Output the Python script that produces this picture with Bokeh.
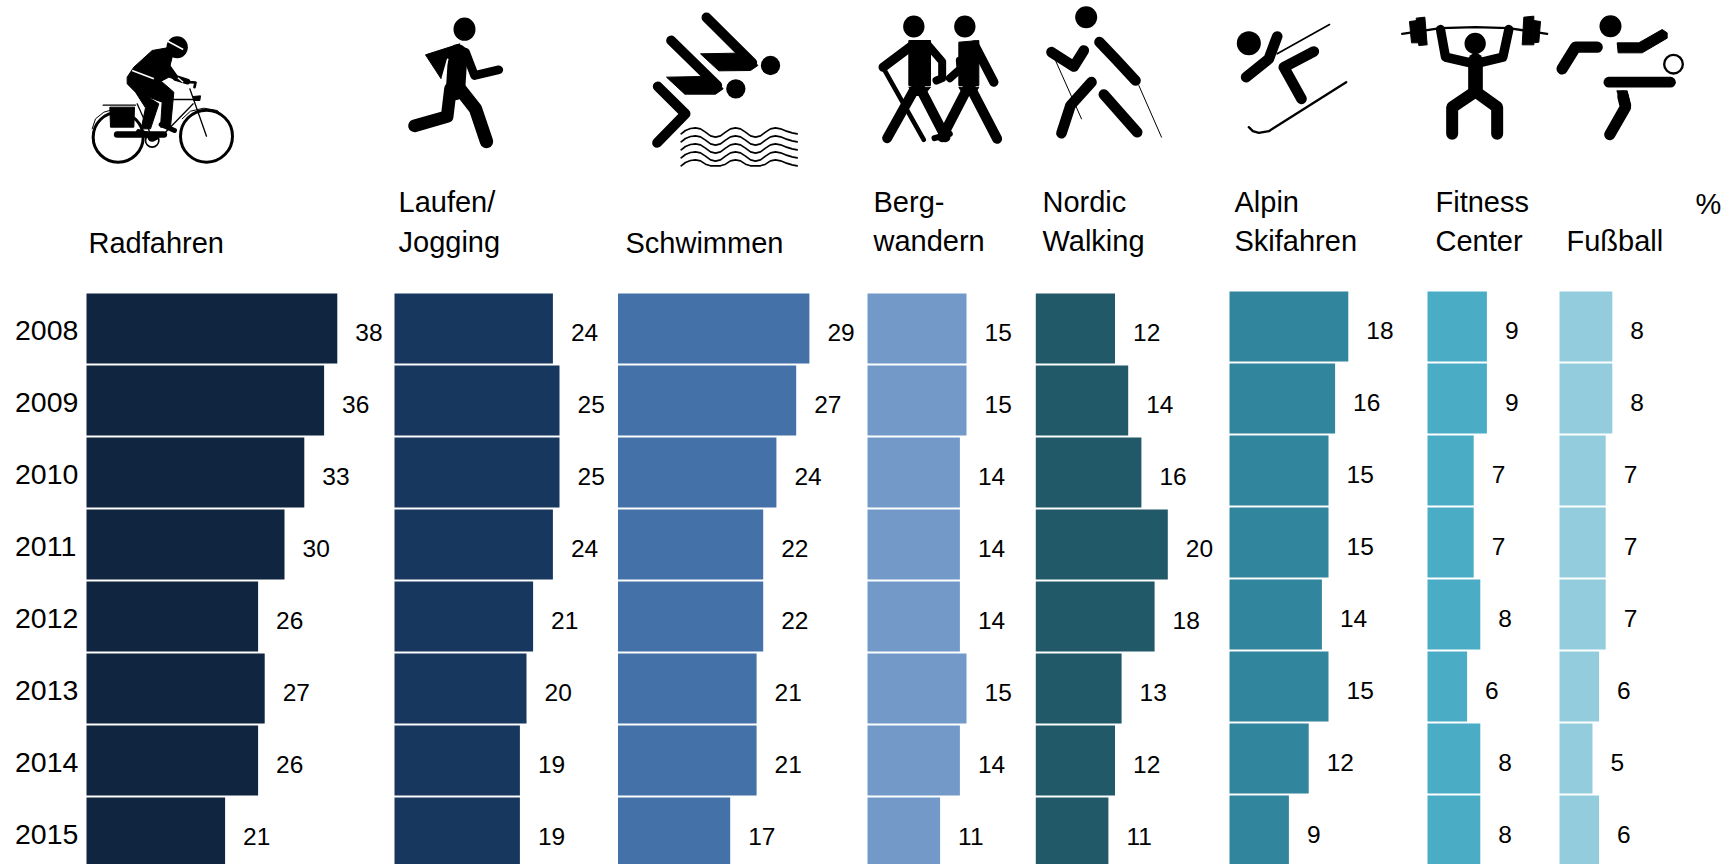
from bokeh.plotting import figure
from bokeh.models import Range1d, ColumnDataSource
from bokeh.core.properties import value
from bokeh.embed import file_html
from bokeh.resources import INLINE

# ---------- data ----------
years = [2008, 2009, 2010, 2011, 2012, 2013, 2014, 2015]
radfahren = [38, 36, 33, 30, 26, 27, 26, 21]
laufen = [24, 25, 25, 24, 21, 20, 19, 19]
schwimmen = [29, 27, 24, 22, 22, 21, 21, 17]
bergwandern = [15, 15, 14, 14, 14, 15, 14, 11]
nordic = [12, 14, 16, 20, 18, 13, 12, 11]
alpin = [18, 16, 15, 15, 14, 15, 12, 9]
fitness = [9, 9, 7, 7, 8, 6, 8, 8]
fussball = [8, 8, 7, 7, 7, 6, 5, 6]
colors = ["#10253F", "#17375E", "#4472A8", "#7399C9", "#215968", "#31859C", "#4BACC6", "#93CDDD"]
headers = [("Radfahren", 88, 242), ("Laufen/", 398, 201), ("Jogging", 398, 241),
           ("Schwimmen", 625, 242), ("Berg-", 873, 201), ("wandern", 873, 240),
           ("Nordic", 1042, 201), ("Walking", 1042, 240), ("Alpin", 1234, 201),
           ("Skifahren", 1234, 240), ("Fitness", 1435, 201), ("Center", 1435, 240),
           ("Fußball", 1566, 240), ("%", 1695, 203)]

# ---------- layout ----------
W, H, M = 1733, 864, 0
PX = 6.6            # pixels per percentage point
ROW = 72            # pixels per year
Y0 = 328            # page y of the 2008 row centre
series = [radfahren, laufen, schwimmen, bergwandern, nordic, alpin, fitness, fussball]
col_left = [86, 394, 617.5, 867, 1035.3, 1229, 1427, 1559]
col_dy = [0, 0, 0, 0, 0, -2, -2, -2]
FONT = value("Liberation Sans")

p = figure(width=W, height=H, output_backend="svg", toolbar_location=None,
           x_range=Range1d(0, W / PX),
           y_range=Range1d(2008 + (M + H - Y0) / ROW, 2008 + (M - Y0) / ROW),
           min_border=0, outline_line_color=None, background_fill_color="white",
           border_fill_color="white")
p.axis.visible = False
p.grid.visible = False
p.extra_x_ranges["px"] = Range1d(M, M + W)
p.extra_y_ranges["px"] = Range1d(M + H, M)

# ---------- bars and labels ----------
for vals, left_px, dy, col in zip(series, col_left, col_dy, colors):
    left = (left_px - M) / PX
    src = ColumnDataSource(dict(
        y=[yr + dy / ROW for yr in years],
        left=[left] * len(vals),
        right=[left + v for v in vals],
        label=[str(v) for v in vals]))
    p.hbar(y="y", left="left", right="right", height=70 / ROW, source=src,
           fill_color=col, line_color=None)
    p.text(x="right", y="y", text="label", source=src, x_offset=18, y_offset=3.5,
           text_align="left", text_baseline="alphabetic", text_font=FONT,
           text_font_size="24.5px", text_color="#000000")

year_src = ColumnDataSource(dict(x=[14.5] * len(years), y=years, t=[str(y) for y in years]))
p.text(x="x", y="y", text="t", source=year_src, x_range_name="px", y_offset=2,
       text_align="left", text_baseline="alphabetic", text_font=FONT,
       text_font_size="28.5px", text_color="#000000")

head_src = ColumnDataSource(dict(t=[h[0] for h in headers], x=[h[1] for h in headers],
                                 y=[h[2] for h in headers]))
p.text(x="x", y="y", text="t", source=head_src, x_range_name="px", y_range_name="px",
       text_align="left", text_baseline="alphabetic", text_font=FONT,
       text_font_size="29px", text_color="#000000")

# ---------- pictograms (page pixels, given at 3x from an icon origin) ----------
strokes = dict(xs=[], ys=[], w=[])
polys = dict(xs=[], ys=[])
ells = dict(x=[], y=[], w=[], h=[])
rings = dict(x=[], y=[], w=[], h=[], lw=[])
white_lines = dict(xs=[], ys=[], w=[])


def icon(ox, oy, st=(), pl=(), el=(), rg=(), white=()):
    for w, pts in st:
        strokes["xs"].append([ox + a / 3 for a, b in pts])
        strokes["ys"].append([oy + b / 3 for a, b in pts])
        strokes["w"].append(w / 3)
    for pts in pl:
        polys["xs"].append([ox + a / 3 for a, b in pts])
        polys["ys"].append([oy + b / 3 for a, b in pts])
    for x, y, rx, ry in el:
        ells["x"].append(ox + x / 3)
        ells["y"].append(oy + y / 3)
        ells["w"].append(2 * rx / 3)
        ells["h"].append(2 * ry / 3)
    for x, y, rx, ry, lw in rg:
        rings["x"].append(ox + x / 3)
        rings["y"].append(oy + y / 3)
        rings["w"].append(2 * rx / 3)
        rings["h"].append(2 * ry / 3)
        rings["lw"].append(lw / 3)
    for w, pts in white:
        white_lines["xs"].append([ox + a / 3 for a, b in pts])
        white_lines["ys"].append([oy + b / 3 for a, b in pts])
        white_lines["w"].append(w / 3)


# cyclist
icon(70, 20,
     st=[(3, [(65, 325), (75, 295), (100, 275), (135, 265), (175, 268)]),
         (4, [(98, 254), (195, 254)]),
         (3, [(335, 295), (360, 272), (400, 263), (440, 270), (472, 300)]),
         (4, [(258, 237), (370, 237)]),
         (4, [(285, 335), (368, 250)]),
         (4, [(358, 205), (408, 347)]),
         (4, [(200, 250), (240, 340)]),
         (20, [(140, 342), (280, 342)]),
         (8, [(345, 184), (375, 186), (372, 200)]),
         (18, [(282, 125), (315, 172), (350, 183)]),
         (15, [(272, 312), (312, 330)]),
         (18, [(205, 335), (255, 350)])],
     pl=[[(118, 260), (192, 260), (190, 320), (120, 320)],
         [(368, 228), (390, 226), (388, 240), (370, 240)],
         [(170, 170), (190, 140), (245, 90), (290, 82), (305, 110), (295, 150), (320, 178), (295, 170),
          (272, 182), (310, 215), (300, 320), (270, 320), (275, 245), (230, 228), (265, 250), (240, 325),
          (212, 325), (225, 262), (195, 215), (170, 190)]],
     el=[(320, 80, 32, 33), (245, 350, 14, 14)],
     rg=[(143, 350, 75, 75, 9), (408, 347, 78, 78, 9), (245, 360, 20, 20, 5)],
     white=[(5, [(292, 62), (338, 87)]), (5, [(185, 150), (250, 175)]), (4, [(322, 172), (338, 185)])])

# runner
icon(400, 10,
     st=[(26, [(195, 125), (222, 195), (295, 178)]),
         (58, [(172, 130), (165, 240)]),
         (40, [(170, 225), (225, 295), (258, 393)]),
         (38, [(150, 235), (140, 318), (42, 346)])],
     pl=[[(75, 133), (178, 100), (170, 150), (140, 145), (122, 205)]],
     el=[(192, 56, 33, 35)],
     white=[(5, [(142, 145), (125, 205)])])

# swimmers
wave_top = [(92, 385), (105, 375), (120, 369), (135, 367), (150, 370), (165, 380), (180, 391),
            (195, 395), (210, 391), (225, 380), (240, 370), (255, 367), (270, 370), (285, 380),
            (300, 391), (315, 395), (330, 391), (345, 380), (360, 370), (375, 367), (390, 370),
            (405, 376), (425, 382), (440, 385)]
waves = [(5, [(a, min(b + d, 481)) for a, b in wave_top]) for d in (0, 24, 48, 72, 96)]
icon(650, 5,
     st=[(30, [(168, 36), (305, 172)]),
         (30, [(62, 105), (200, 240)]),
         (30, [(22, 243), (105, 325), (20, 412)])] + waves,
     pl=[[(150, 145), (255, 143), (305, 160), (322, 180), (300, 195), (205, 196)],
         [(48, 215), (155, 213), (200, 230), (218, 250), (195, 266), (103, 266)]],
     el=[(360, 180, 29, 29), (256, 250, 29, 29)])

# hikers
icon(870, 5,
     st=[(28, [(125, 120), (38, 185)]),
         (14, [(40, 190), (160, 403)]),
         (24, [(172, 118), (215, 168), (215, 218), (198, 225)]),
         (30, [(130, 255), (50, 398)]),
         (30, [(150, 250), (225, 395)]),
         (28, [(312, 118), (370, 230)]),
         (24, [(268, 165), (270, 190), (238, 218)]),
         (30, [(290, 250), (215, 395)]),
         (30, [(302, 250), (380, 400)]),
         (18, [(192, 398), (238, 385)])],
     pl=[[(115, 105), (180, 105), (180, 240), (115, 240)],
         [(265, 110), (325, 105), (325, 240), (265, 240)],
         [(115, 245), (180, 245), (160, 270), (135, 270)],
         [(265, 245), (325, 245), (310, 270), (280, 270)]],
     el=[(130, 63, 32, 33), (283, 63, 32, 33)])

# nordic walker
icon(1035, 0,
     st=[(32, [(192, 125), (240, 175), (300, 240)]),
         (3, [(310, 255), (378, 410)]),
         (3, [(60, 180), (138, 355)]),
         (32, [(48, 155), (115, 198), (145, 150)]),
         (32, [(168, 245), (105, 315), (78, 398)]),
         (32, [(205, 282), (305, 395)])],
     el=[(152, 50, 33, 33)])

# skier
icon(1225, 20,
     st=[(5, [(155, 100), (312, 12)]),
         (32, [(155, 48), (130, 115), (62, 170)]),
         (32, [(265, 93), (175, 140), (228, 235)]),
         (7, [(362, 185), (130, 332), (100, 337), (82, 332), (70, 320)])],
     el=[(70, 68, 36, 36)])

# weightlifter
icon(1395, 5,
     st=[(7, [(20, 85), (135, 68), (240, 65), (340, 68), (455, 85)]),
         (28, [(135, 72), (150, 155), (225, 172)]),
         (28, [(340, 72), (322, 155), (250, 172)]),
         (44, [(240, 165), (240, 250)]),
         (36, [(240, 258), (170, 305), (170, 385)]),
         (36, [(240, 258), (305, 305), (305, 385)])],
     pl=[[(62, 38), (88, 35), (95, 118), (70, 120)], [(42, 48), (65, 45), (70, 112), (48, 112)],
         [(385, 35), (415, 32), (415, 118), (380, 118)], [(415, 45), (435, 48), (430, 110), (415, 112)]],
     el=[(239, 114, 32, 32)])

# footballer
icon(1395, 5,
     st=[(34, [(605, 125), (540, 125), (500, 190)]),
         (32, [(640, 230), (825, 230)]),
         (34, [(682, 272), (690, 305), (643, 387)])],
     pl=[[(665, 112), (730, 112), (800, 72), (815, 82), (815, 98), (740, 142), (668, 142)],
         [(664, 256), (695, 256), (706, 300), (680, 300)]],
     el=[(645, 62, 33, 33)],
     rg=[(834, 176, 28, 28, 7)])

p.patches(xs="xs", ys="ys", source=ColumnDataSource(polys), fill_color="black", line_color="black",
          line_width=1, x_range_name="px", y_range_name="px")
p.multi_line(xs="xs", ys="ys", line_width="w", source=ColumnDataSource(strokes), line_color="black",
             line_cap="round", line_join="round", x_range_name="px", y_range_name="px")
p.ellipse(x="x", y="y", width="w", height="h", source=ColumnDataSource(ells), fill_color="black",
          line_color=None, x_range_name="px", y_range_name="px")
p.ellipse(x="x", y="y", width="w", height="h", line_width="lw", source=ColumnDataSource(rings),
          fill_color=None, line_color="black", x_range_name="px", y_range_name="px")
p.multi_line(xs="xs", ys="ys", line_width="w", source=ColumnDataSource(white_lines), line_color="white",
             x_range_name="px", y_range_name="px")

open("out.html", "w").write(file_html(p, INLINE))
